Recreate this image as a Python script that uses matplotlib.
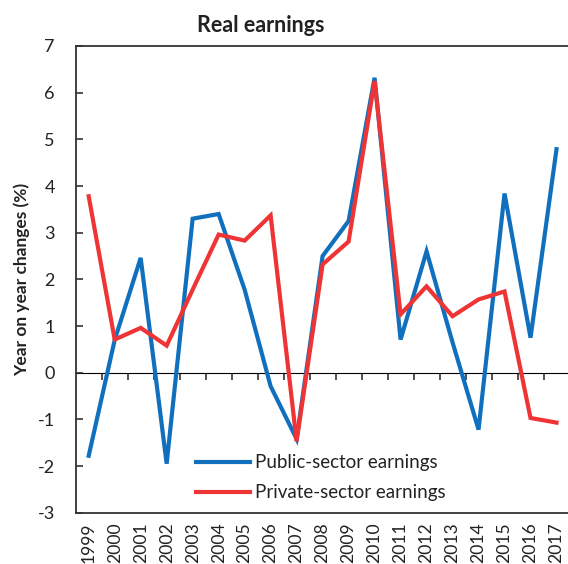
import matplotlib
matplotlib.use("Agg")
import matplotlib.pyplot as plt

years = [str(y) for y in range(1999, 2018)]
public = [-1.78, 0.70, 2.46, -1.95, 3.30, 3.40, 1.78, -0.29, -1.42, 2.50, 3.25, 6.32,
          0.71, 2.60, 0.65, -1.22, 3.84, 0.75, 4.79]
private = [3.78, 0.71, 0.96, 0.58, 1.78, 2.96, 2.83, 3.37, -1.47, 2.32, 2.81, 6.25,
           1.25, 1.85, 1.21, 1.57, 1.74, -0.97, -1.07]
yticks = list(range(-3, 8))

plt.rcParams['font.family'] = ['Lato', 'DejaVu Sans']

W, H = 568, 564
fig = plt.figure(figsize=(W / 100, H / 100), dpi=100)
ax = fig.add_axes([75.7 / W, 1 - 512.7 / H, 493.8 / W, (512.7 - 46) / H])

x = list(range(len(years)))
ax.plot(x, public, color='#1170BD', lw=3.0, solid_joinstyle='miter', label='Public-sector earnings', zorder=3)
ax.plot(x, private, color='#EE3434', lw=3.0, solid_joinstyle='miter', label='Private-sector earnings', zorder=4)

ax.set_xlim(-0.5, len(years) - 0.5)
ax.set_ylim(-3, 7)
ax.set_yticks(yticks)
ax.set_yticklabels([str(v) for v in yticks])
ax.set_xticks(x)
ax.set_xticklabels(years, rotation=90)
ax.tick_params(axis='x', length=0, pad=7, labelsize=12.6, colors='#222222')
ax.tick_params(axis='y', direction='in', length=5, width=1.1, pad=15, labelsize=13,
               colors='#222222')
for s in ax.spines.values():
    s.set_linewidth(1.3)
    s.set_color('#333333')

# zero line with category boundary ticks
zero_pos = (0 - ax.get_ylim()[0]) / (ax.get_ylim()[1] - ax.get_ylim()[0])
sec = ax.secondary_xaxis(zero_pos)
sec.set_xticks([i + 0.5 for i in range(len(years) - 1)])
sec.tick_params(axis='x', direction='out', length=5, width=1.1, labeltop=False,
                labelbottom=False, color='#222222')
sec.spines['top'].set_linewidth(1.3)
sec.spines['top'].set_color('#222222')

leg = ax.legend(loc='center left', bbox_to_anchor=(196 / W, 1 - 477.7 / H),
                bbox_transform=fig.transFigure, frameon=False, fontsize=13.5,
                handlelength=2.9, handletextpad=0.25, labelspacing=0.68,
                borderpad=0, borderaxespad=0)
for t in leg.get_texts():
    t.set_color('#222222')

fig.text(261 / W, 1 - 25 / H, 'Real earnings', ha='center', va='center',
         fontsize=15.5, fontweight='bold', color='#222222')
fig.text(21.7 / W, 1 - 279.5 / H, 'Year on year changes (%)', ha='center', va='center',
         rotation=90, fontsize=12.5, fontweight='bold', color='#222222')

fig.savefig('out.png', dpi=100)
